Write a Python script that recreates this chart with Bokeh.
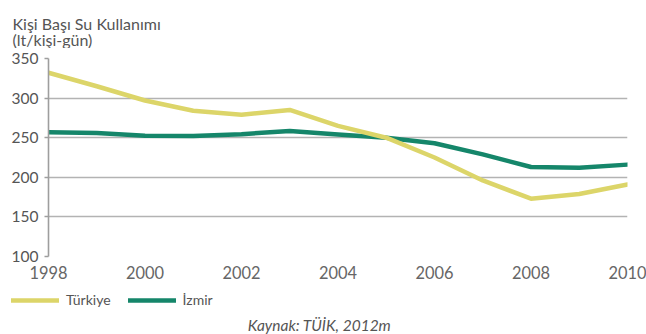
from bokeh.plotting import figure
from bokeh.models import (ColumnDataSource, Legend, LegendItem, Label,
                          FixedTicker, Range1d)
from bokeh.layouts import column
from bokeh.embed import file_html
from bokeh.resources import INLINE

years = [1998, 1999, 2000, 2001, 2002, 2003, 2004, 2005, 2006, 2007, 2008, 2009, 2010]
turkiye = [332, 315, 297, 284, 279, 285, 265, 250, 225, 196, 173, 179, 191]
izmir = [257, 256, 252.5, 252, 254.5, 258.5, 254, 250, 243, 229, 213, 212, 216]
y_ticks = [100, 150, 200, 250, 300, 350]
x_ticks = [1998, 2000, 2002, 2004, 2006, 2008, 2010]

title_lines = ["Kişi Başı Su Kullanımı", "(lt/kişi-gün)"]
series_names = ["Türkiye", "İzmir"]
source_text = "Kaynak: TÜİK, 2012m"

YELLOW = "#DCD569"
GREEN = "#15866A"
FONT = "Lato"
TXT = "#555555"
W = 646


def blank(h):
    f = figure(width=W, height=h, output_backend="svg", toolbar_location=None,
               x_axis_type=None, y_axis_type=None,
               x_range=Range1d(0, 1), y_range=Range1d(0, 1),
               min_border=0, frame_align=False)
    f.outline_line_color = None
    f.grid.visible = False
    return f


src = ColumnDataSource(dict(year=years, tr=turkiye, iz=izmir))
line_kw = dict(line_width=4.5, line_join="round", line_cap="round")

# ---- title strip ----
top = blank(48)
top.add_layout(Label(x=12, y=25, x_units="screen", y_units="screen",
                     text=title_lines[0], text_font=FONT, text_font_size="16px",
                     text_color=TXT, text_baseline="alphabetic"))
top.add_layout(Label(x=12, y=9, x_units="screen", y_units="screen",
                     text=title_lines[1], text_font=FONT, text_font_size="16px",
                     text_color=TXT, text_baseline="alphabetic"))

# ---- main chart ----
p = figure(width=W, height=234, output_backend="svg", toolbar_location=None,
           x_range=Range1d(1998, 2010), y_range=Range1d(100, 350),
           min_border_left=48, min_border_right=19, min_border_top=10,
           min_border_bottom=26, frame_align=False)
p.outline_line_color = None

p.line("year", "iz", source=src, line_color=GREEN, **line_kw)
p.line("year", "tr", source=src, line_color=YELLOW, **line_kw)

p.xgrid.grid_line_color = None
p.ygrid.grid_line_color = "#B3B3B3"
p.ygrid.grid_line_width = 1.6
p.yaxis.ticker = FixedTicker(ticks=y_ticks)
p.xaxis.ticker = FixedTicker(ticks=x_ticks)

p.yaxis.axis_line_color = "#9E9E9E"
p.yaxis.axis_line_width = 1.6
p.yaxis.major_tick_line_color = "#9E9E9E"
p.yaxis.major_tick_line_width = 1.6
p.yaxis.major_tick_in = 0
p.yaxis.major_tick_out = 4
p.yaxis.minor_tick_line_color = None
p.yaxis.major_label_standoff = 6
p.yaxis.major_label_text_font = FONT
p.yaxis.major_label_text_font_size = "15.5px"
p.yaxis.major_label_text_color = TXT

p.xaxis.axis_line_color = None
p.xaxis.major_tick_line_color = None
p.xaxis.minor_tick_line_color = None
p.xaxis.major_label_standoff = 3
p.xaxis.major_label_text_font = FONT
p.xaxis.major_label_text_font_size = "16.4px"
p.xaxis.major_label_text_color = "#666666"

# ---- legend + source strip ----
bot = blank(52)
# same series, outside this strip's visible range: only used as legend keys
k_tr = bot.line("year", "tr", source=src, line_color=YELLOW, **line_kw)
k_iz = bot.line("year", "iz", source=src, line_color=GREEN, **line_kw)
legend = Legend(items=[LegendItem(label=series_names[0], renderers=[k_tr]),
                       LegendItem(label=series_names[1], renderers=[k_iz])],
                orientation="horizontal", location=(11, 26),
                padding=0, margin=0, spacing=17, glyph_width=48, glyph_height=16,
                label_height=16, label_standoff=7, label_text_font=FONT,
                label_text_font_size="14px", label_text_color=TXT,
                border_line_color=None, background_fill_alpha=0)
bot.add_layout(legend, "center")
bot.add_layout(Label(x=319, y=10, x_units="screen", y_units="screen",
                     text=source_text, text_font=FONT, text_font_size="15.5px",
                     text_font_style="italic", text_color=TXT,
                     text_align="center", text_baseline="alphabetic"))

layout = column(top, p, bot, spacing=0)
open("out.html", "w").write(file_html(layout, INLINE))
